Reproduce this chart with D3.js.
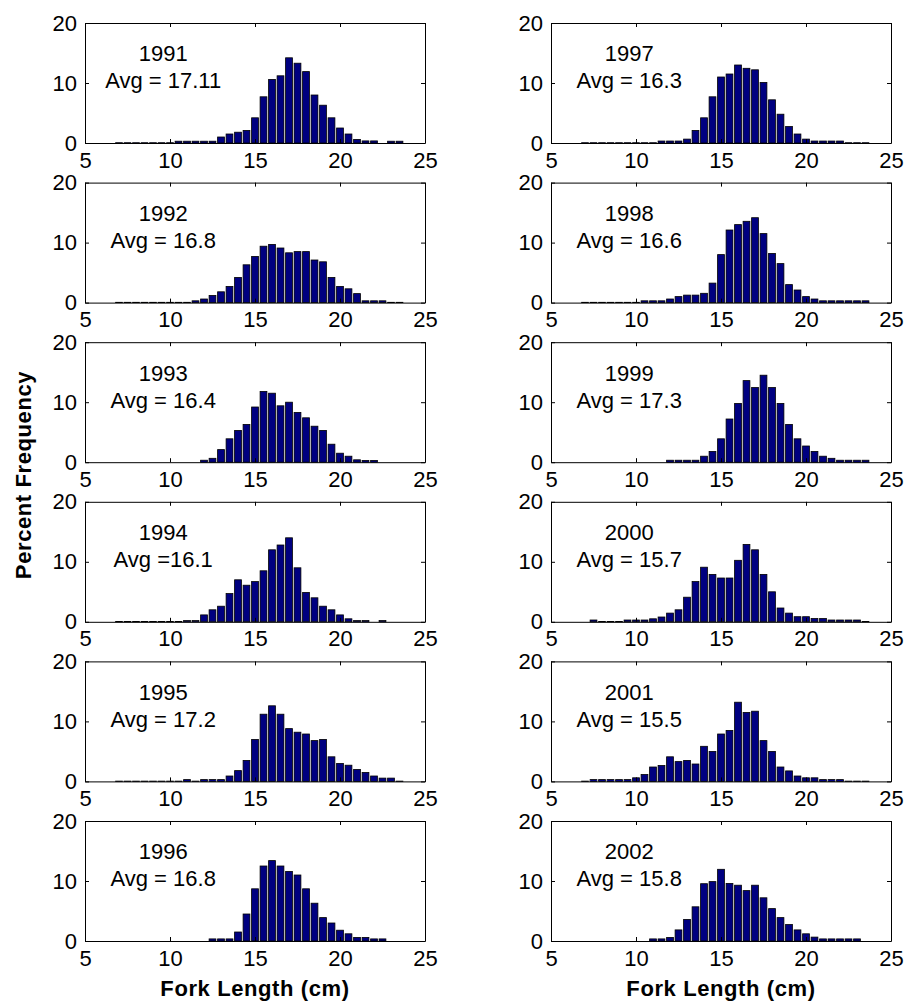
<!DOCTYPE html>
<html>
<head>
<meta charset="utf-8">
<script src="https://cdn.jsdelivr.net/npm/d3@7"></script>
<style>
  body { margin: 0; background: #fff; }
  text { font-family: Arial, "Liberation Sans", sans-serif; }
</style>
</head>
<body>
<div id="container"></div>
<script>
/* DATA */
// bin centres (cm)
const bins = [7, 7.5, 8, 8.5, 9, 9.5, 10, 10.5, 11, 11.5, 12, 12.5, 13, 13.5, 14, 14.5, 15, 15.5,
              16, 16.5, 17, 17.5, 18, 18.5, 19, 19.5, 20, 20.5, 21, 21.5, 22, 22.5, 23, 23.5, 24];

const years = ["1991", "1992", "1993", "1994", "1995", "1996",
               "1997", "1998", "1999", "2000", "2001", "2002"];
const avgLabels = ["Avg = 17.11", "Avg = 16.8", "Avg = 16.4", "Avg =16.1", "Avg = 17.2", "Avg = 16.8",
                   "Avg = 16.3", "Avg = 16.6", "Avg = 17.3", "Avg = 15.7", "Avg = 15.5", "Avg = 15.8"];

// percent frequency per bin
const freq1991 = [0.05, 0.05, 0.05, 0.05, 0.05, 0.05, 0.05, 0.3, 0.3, 0.3, 0.3, 0.3, 1.0, 1.5, 1.8, 2.1, 4.2, 7.7,
                  10.6, 11.2, 14.2, 13.3, 11.9, 8.0, 6.3, 4.2, 2.5, 1.5, 0.6, 0.35, 0.35, 0, 0.3, 0.3, 0];
const freq1992 = [0.05, 0.05, 0.05, 0.05, 0.05, 0.05, 0.05, 0.05, 0.05, 0.3, 0.6, 1.2, 1.8, 2.7, 4.2, 6.3, 7.7, 9.4,
                  9.7, 9.1, 8.3, 8.5, 8.5, 7.1, 6.8, 4.2, 2.7, 2.3, 1.5, 0.3, 0.3, 0.3, 0.05, 0.05, 0];
const freq1993 = [0, 0, 0, 0, 0, 0, 0, 0, 0, 0, 0.33, 0.65, 2.1, 3.9, 5.3, 6.3, 9.2, 11.8,
                  11.5, 9.4, 10.0, 8.3, 7.4, 6.0, 5.3, 3.0, 1.5, 1.0, 0.4, 0.3, 0.3, 0, 0, 0, 0];
const freq1994 = [0.05, 0.05, 0.05, 0.05, 0.05, 0.05, 0.05, 0.05, 0.2, 0.2, 1.15, 2.0, 2.6, 4.7, 7.0, 6.1, 6.7, 8.5,
                  12.0, 12.8, 14.0, 9.0, 4.9, 4.0, 2.6, 2.0, 1.15, 0.5, 0.2, 0.2, 0, 0.2, 0, 0, 0];
const freq1995 = [0.05, 0.05, 0.05, 0.05, 0.05, 0.05, 0.05, 0.05, 0.3, 0.05, 0.3, 0.3, 0.3, 0.9, 1.8, 3.5, 7.0, 11.2,
                  12.6, 11.2, 8.8, 8.2, 7.9, 6.8, 7.0, 4.1, 3.0, 2.7, 2.0, 1.5, 0.9, 0.55, 0.55, 0.05, 0];
const freq1996 = [0, 0, 0, 0, 0, 0, 0, 0, 0, 0, 0, 0.35, 0.35, 0.35, 1.5, 4.5, 8.7, 12.5,
                  13.4, 12.5, 11.6, 11.0, 8.7, 6.3, 3.9, 3.0, 1.8, 1.2, 0.6, 0.6, 0.35, 0.35, 0, 0, 0];
const freq1997 = [0.05, 0.05, 0.05, 0.05, 0.05, 0.05, 0.05, 0.05, 0.05, 0.33, 0.33, 0.33, 0.65, 2.1, 4.2, 7.7, 11.0, 11.5,
                  13.0, 12.45, 12.2, 10.1, 7.2, 4.8, 2.75, 1.5, 0.65, 0.33, 0.33, 0.33, 0.33, 0.05, 0.05, 0.05, 0];
const freq1998 = [0.05, 0.05, 0.05, 0.05, 0.05, 0.05, 0.05, 0.3, 0.3, 0.3, 0.6, 1.0, 1.25, 1.25, 1.55, 3.25, 8.0, 12.1,
                  13.0, 13.55, 14.15, 11.5, 8.2, 6.5, 3.0, 2.1, 1.0, 0.6, 0.3, 0.3, 0.3, 0.3, 0.3, 0.3, 0];
const freq1999 = [0, 0, 0, 0, 0, 0, 0, 0, 0, 0, 0.33, 0.33, 0.33, 0.33, 1.0, 1.8, 3.9, 7.2,
                  9.8, 13.6, 12.45, 14.5, 12.45, 9.8, 6.3, 3.9, 2.7, 1.8, 1.0, 0.65, 0.33, 0.33, 0.33, 0.33, 0];
const freq2000 = [0, 0.3, 0.05, 0.05, 0.05, 0.3, 0.3, 0.3, 0.5, 0.8, 1.45, 2.0, 4.1, 6.7, 9.1, 7.9, 7.3, 7.3,
                  10.25, 12.9, 12.0, 7.9, 5.0, 2.3, 1.45, 0.85, 0.85, 0.55, 0.55, 0.3, 0.3, 0.3, 0.3, 0.05, 0];
const freq2001 = [0.05, 0.3, 0.3, 0.3, 0.3, 0.3, 0.6, 1.15, 2.4, 2.65, 4.1, 3.3, 3.5, 2.9, 5.85, 5.0, 7.9, 8.5,
                  13.2, 11.5, 11.7, 6.8, 5.0, 2.4, 1.75, 0.9, 0.6, 0.6, 0.3, 0.3, 0.3, 0.05, 0.05, 0.05, 0];
const freq2002 = [0, 0, 0, 0, 0, 0, 0, 0, 0.35, 0.35, 0.6, 1.85, 3.6, 5.7, 9.55, 9.9, 11.95, 9.6,
                  9.3, 8.4, 9.3, 7.2, 5.4, 3.9, 2.75, 1.85, 1.2, 0.65, 0.35, 0.35, 0.35, 0.35, 0.35, 0, 0];

const series = [freq1991, freq1992, freq1993, freq1994, freq1995, freq1996,
                freq1997, freq1998, freq1999, freq2000, freq2001, freq2002];

const xTicks = [5, 10, 15, 20, 25];
const yTicks = [0, 10, 20];

/* LAYOUT */
const width = 906, height = 1002;
const colLeft = [85, 551];
const rowTop = 23, rowStep = 159.6;
const panelW = 340, panelH = 120;
const fontSize = 22;

const svg = d3.select("#container")
    .append("svg")
    .attr("width", width)
    .attr("height", height);

// SCALES
const x = d3.scaleLinear().domain([5, 25]).range([0, panelW]);
const y = d3.scaleLinear().domain([0, 20]).range([panelH, 0]);
const barHalf = 0.2; // MATLAB bar width 0.8 of 0.5 cm bin

series.forEach((vals, i) => {
    const col = Math.floor(i / 6), row = i % 6;
    const g = svg.append("g")
        .attr("transform", `translate(${colLeft[col]}, ${rowTop + row * rowStep})`);

    // BARS
    g.selectAll("rect.bar")
        .data(bins.map((b, k) => ({ b, v: vals[k] })).filter(d => d.v > 0))
        .join("rect")
        .attr("class", "bar")
        .attr("x", d => x(d.b - barHalf))
        .attr("width", d => x(d.b + barHalf) - x(d.b - barHalf))
        .attr("y", d => y(d.v))
        .attr("height", d => y(0) - y(d.v))
        .attr("fill", "#000080")
        .attr("stroke", "#000")
        .attr("stroke-width", 0.8);

    // AXES (box with inward ticks)
    const styleAxis = sel => {
        sel.attr("font-size", fontSize).attr("font-family", "Arial, 'Liberation Sans', sans-serif");
        sel.selectAll("path.domain").attr("stroke", "#000").attr("stroke-width", 1);
        sel.selectAll(".tick line").attr("stroke", "#000");
        sel.selectAll(".tick text").attr("fill", "#000");
    };

    g.append("g")
        .attr("transform", `translate(0, ${panelH})`)
        .call(d3.axisBottom(x).tickValues(xTicks).tickSizeInner(-4).tickSizeOuter(0).tickPadding(9))
        .call(styleAxis);
    g.append("g")
        .call(d3.axisTop(x).tickValues(xTicks).tickSizeInner(-4).tickSizeOuter(0).tickFormat(""))
        .call(styleAxis);
    g.append("g")
        .call(d3.axisLeft(y).tickValues(yTicks).tickSizeInner(-4).tickSizeOuter(0).tickPadding(8))
        .call(styleAxis);
    g.append("g")
        .attr("transform", `translate(${panelW}, 0)`)
        .call(d3.axisRight(y).tickValues(yTicks).tickSizeInner(-4).tickSizeOuter(0).tickFormat(""))
        .call(styleAxis);

    // ANNOTATIONS
    g.append("text")
        .attr("x", x(9.6))
        .attr("y", y(13.6))
        .attr("text-anchor", "middle")
        .attr("font-size", fontSize)
        .text(years[i]);
    g.append("text")
        .attr("x", x(9.6))
        .attr("y", y(9.1))
        .attr("text-anchor", "middle")
        .attr("font-size", fontSize)
        .text(avgLabels[i]);
});

// AXIS TITLES
svg.append("text")
    .attr("transform", "translate(31, 475) rotate(-90)")
    .attr("text-anchor", "middle")
    .attr("font-size", 22)
    .attr("font-weight", "bold")
    .attr("letter-spacing", 0.6)
    .text("Percent Frequency");

colLeft.forEach(cx => {
    svg.append("text")
        .attr("x", cx + panelW / 2)
        .attr("y", 996)
        .attr("text-anchor", "middle")
        .attr("font-size", 22)
        .attr("font-weight", "bold")
        .attr("letter-spacing", 0.6)
        .text("Fork Length (cm)");
});
</script>
</body>
</html>
